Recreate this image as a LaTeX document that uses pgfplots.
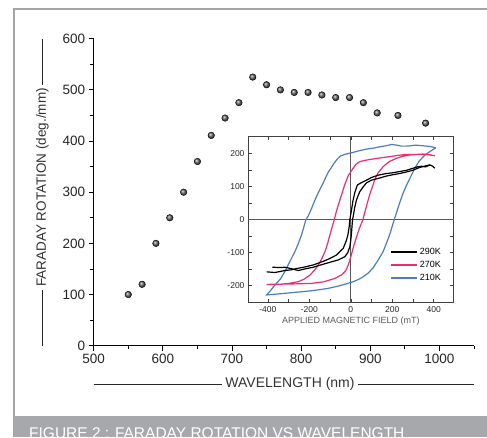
\documentclass[border=0pt]{standalone}
\usepackage{fontspec}
\setmainfont{Liberation Sans}
\usepackage{pgfplots}
\pgfplotsset{compat=1.18}

\definecolor{framegray}{RGB}{165,165,168}
\definecolor{capbar}{RGB}{167,168,171}
\definecolor{pinkK}{RGB}{236,45,110}
\definecolor{blueK}{RGB}{74,126,196}

% Faraday rotation vs wavelength
\pgfplotstableread{
wl    rot
550   100
570   120
590   200
610   250
630   300
650   360
670   411
690   445
710   475
730   525
750   510
770   500
790   495
810   495
830   490
850   485
870   485
890   475
910   455
940   450
980   435
}\faraday

\begin{document}
\begin{tikzpicture}[x=1pt,y=1pt]
\clip (0,0) rectangle (487,-437);
\fill[white] (0,0) rectangle (487,-437);
\draw[framegray, line width=1.2] (14,-437) -- (14,-9) -- (487,-9);
\fill[capbar] (14,-416) rectangle (487,-437);
\node[anchor=base west, inner sep=0pt, text=white,
  font=\fontsize{15.5}{15.5}\selectfont]
  at (29,-438) {FIGURE 2 : FARADAY ROTATION VS WAVELENGTH};

% axis titles with rules
\node[rotate=90, font=\fontsize{13.5}{16}\selectfont, text=black!80] (yl) at (42.3,-187.5) {FARADAY ROTATION (deg./mm)};
\draw[line width=0.8, black!85] (42.3,-38.7) -- (yl.east);
\draw[line width=0.8, black!85] (yl.west) -- (42.3,-345.7);
\node[font=\fontsize{14}{16}\selectfont, text=black!80] (xl) at (290,-384) {WAVELENGTH (nm)};
\draw[line width=0.8, black!85] (93.7,-384) -- (xl.west);
\draw[line width=0.8, black!85] (xl.east) -- (474,-384);

\begin{axis}[
  at={(93.7pt,-345.7pt)}, anchor=south west, scale only axis,
  width=380.3pt, height=307pt,
  xmin=500, xmax=1050, ymin=0, ymax=600,
  axis x line*=bottom, axis y line*=left,
  axis line style={-, line width=1pt, black},
  tick align=outside, tick style={black, line width=0.8pt},
  major tick length=5pt, minor tick length=3.5pt,
  xtick={500,600,...,1000}, minor xtick={550,650,...,1050},
  ytick={0,100,...,600}, minor ytick={50,150,...,550},
  /pgf/number format/assume math mode=true,
  /pgf/number format/1000 sep={},
  ticklabel style={font=\fontsize{13.5}{16}\selectfont, text=black!85},
  clip=false,
]
\addplot[only marks, mark=ball, mark size=3.3pt, mark options={ball color=black!60}] table[x=wl, y=rot] {\faraday};
\end{axis}

\begin{axis}[
  at={(248pt,-302.7pt)}, anchor=south west, scale only axis,
  width=205.7pt, height=166pt,
  xmin=-496, xmax=496, ymin=-251.5, ymax=251.5,
  axis line style={black!75, line width=0.9pt},
  axis background/.style={fill=white},
  tick align=inside, tick style={black!75, line width=0.7pt},
  major tick length=3.5pt, minor tick length=3.5pt,
  xtick={-400,-200,0,200,400}, xticklabels={-400,-200,0,200,400},
  minor xtick={-300,-100,100,300},
  ytick={-200,-100,0,100,200}, yticklabels={-200,-100,0,100,200},
  minor ytick={-150,-50,50,150},
  ticklabel style={font=\fontsize{8.5}{10}\selectfont, text=black!85},
  xlabel={APPLIED MAGNETIC FIELD (mT)},
  xlabel style={font=\fontsize{9}{10}\selectfont, text=black!65, yshift=2pt},
  legend style={at={(0.69,0.34)}, anchor=north west, draw=none, fill=none,
    font=\fontsize{9}{10}\selectfont, row sep=1.2pt, inner sep=0pt},
  legend cell align=left,
  legend image code/.code={\draw[#1, line width=1.8pt] (0pt,0pt) -- (26pt,0pt);},
]
\addplot[forget plot, black!65, line width=0.9pt] coordinates {(-496,0)(496,0)};
\addplot[forget plot, black!65, line width=0.9pt] coordinates {(0,-251.5)(0,251.5)};

% 210K
\addplot[forget plot, blueK, line width=1.2pt] coordinates {
(410,218)(380,222)(349,224)(330,225)(308,226)(290,224)(268,223)(244,223)(220,226)(196,228)
(170,224)(140,221)(110,217)(76,214)(40,209)(11,204)(-29,198)(-50,193)(-65,184)(-80,172)
(-93,159)(-110,143)(-125,123)(-140,103)(-157,82)(-175,57)(-189,35)(-205,12)(-217,0)
(-228,-25)(-240,-50)(-255,-75)(-270,-97)(-295,-128)(-318,-157)(-340,-180)(-366,-198)
(-385,-213)(-406,-228)
(-350,-225)(-300,-222)(-250,-219)(-200,-216)(-150,-212)(-109,-208)(-60,-201)(-20,-194)
(11,-188)(40,-180)(59,-173)(85,-161)(107,-146)(130,-124)(156,-96)(175,-66)(190,-40)
(209,0)(222,25)(236,52)(250,77)(268,104)(290,132)(308,156)(330,178)(357,196)(385,208)(410,218)
};
% 270K
\addplot[forget plot, pinkK, line width=1.2pt] coordinates {
(405,194)(370,197)(340,198)(300,198)(268,198)(230,195)(188,191)(150,188)(107,184)(70,180)
(43,176)(25,168)(10,155)(-13,133)(-30,105)(-45,75)(-58,50)(-69,27)(-80,0)(-90,-22)
(-101,-46)(-112,-72)(-125,-97)(-140,-118)(-157,-137)(-175,-153)(-198,-168)(-225,-180)
(-254,-188)(-300,-193)(-350,-196)(-406,-196)
(-300,-195)(-189,-193)(-130,-188)(-77,-178)(-45,-167)(-25,-155)(-13,-138)(0,-112)(11,-86)
(25,-57)(40,-28)(58,0)(68,24)(80,52)(92,78)(105,102)(116,122)(130,141)(156,161)(185,176)
(220,186)(250,192)(284,196)(320,198)(349,199)(380,197)(405,194)
};
% 290K
\addplot[forget plot, black, line width=1.2pt] coordinates {
(405,156)(395,162)(381,166)(360,160)(340,162)(320,160)(300,156)(270,150)(236,146)(200,142)
(172,140)(132,135)(100,128)(76,120)(50,112)(31,105)(19,82)(10,57)(3,29)(-5,0)(-8,-21)
(-14,-45)(-21,-62)(-37,-87)(-69,-107)(-100,-117)(-117,-122)(-150,-130)(-181,-137)
(-220,-143)(-254,-147)(-290,-152)(-318,-154)(-366,-160)(-406,-158)
};
\addplot[forget plot, black, line width=1.2pt] coordinates {
(-378,-144)(-340,-145)(-318,-144)(-290,-148)(-254,-154)(-220,-149)(-181,-144)(-150,-138)
(-117,-132)(-90,-127)(-61,-122)(-29,-112)(-15,-100)(-5,-82)(0,-60)(3,-41)(8,0)(11,9)
(18,35)(27,60)(43,85)(60,100)(76,112)(100,120)(132,125)(170,132)(200,136)(236,140)
(270,145)(300,150)(330,158)(360,163)(381,166)
};
\addlegendimage{black}\addlegendentry{290K}
\addlegendimage{pinkK}\addlegendentry{270K}
\addlegendimage{blueK}\addlegendentry{210K}
\end{axis}
\end{tikzpicture}
\end{document}
